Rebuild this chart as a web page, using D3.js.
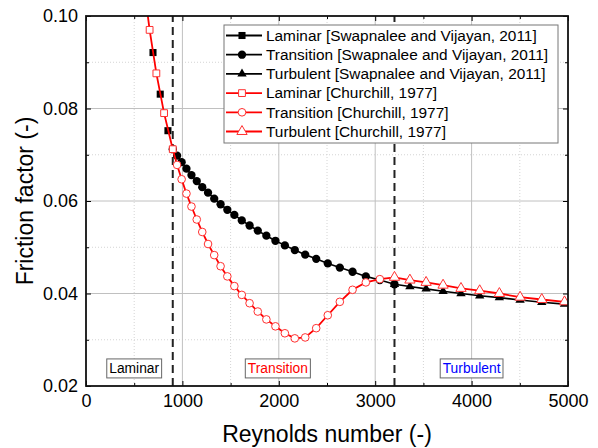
<!DOCTYPE html>
<html>
<head>
<meta charset="utf-8">
<script src="https://cdn.jsdelivr.net/npm/d3@7"></script>
<style>
  body { margin: 0; background: #fff; }
  svg { display: block; font-family: "Liberation Sans", Arial, sans-serif; }
</style>
</head>
<body>
<div id="chart"></div>
<script>
// Data
const reLamSV = [695, 770, 850];
const fLamSV = [0.0921, 0.0831, 0.0752];

const reTransSV = [900, 945, 992, 1042, 1094, 1149, 1206, 1266, 1330, 1396, 1466, 1539, 1616, 1697,
  1782, 1871, 1965, 2063, 2166, 2274, 2388, 2508, 2633, 2765, 2903, 3048, 3200];
const fTransSV = [0.0712, 0.0698, 0.0684, 0.0670, 0.0656, 0.0643, 0.0630, 0.0618, 0.0605, 0.0593,
  0.0581, 0.0570, 0.0558, 0.0547, 0.0536, 0.0525, 0.0514, 0.0504, 0.0494, 0.0484, 0.0475, 0.0465,
  0.0456, 0.0447, 0.0437, 0.0429, 0.0420];

const reTurbSV = [3200, 3360, 3528, 3704, 3890, 4084, 4288, 4503, 4728, 4964];
const fTurbSV = [0.0420, 0.0415, 0.0410, 0.0405, 0.0400, 0.0395, 0.0391, 0.0386, 0.0381, 0.0377];

const reLamCh = [600, 660, 730, 810, 900];
const fLamCh = [0.1067, 0.0970, 0.0876, 0.0790, 0.0712];

const reTransCh = [945, 992, 1042, 1094, 1149, 1206, 1266, 1330, 1396, 1466, 1539, 1616, 1697, 1782,
  1871, 1965, 2063, 2166, 2274, 2388, 2508, 2633, 2765, 2903, 3048];
const fTransCh = [0.0678, 0.0647, 0.0616, 0.0588, 0.0560, 0.0533, 0.0507, 0.0483, 0.0459, 0.0437,
  0.0416, 0.0397, 0.0379, 0.0361, 0.0344, 0.0329, 0.0314, 0.0303, 0.0305, 0.0325, 0.0353, 0.0382,
  0.0408, 0.0424, 0.0431];

const reTurbCh = [3200, 3360, 3528, 3704, 3890, 4084, 4288, 4503, 4728, 4964];
const fTurbCh = [0.0435, 0.0429, 0.0424, 0.0418, 0.0411, 0.0406, 0.0400, 0.0392, 0.0387, 0.0382];

const xTicks = [0, 1000, 2000, 3000, 4000, 5000];
const xMinor = [500, 1500, 2500, 3500, 4500];
const yTicks = [0.02, 0.04, 0.06, 0.08, 0.10];
const yMinor = [0.03, 0.05, 0.07, 0.09];

const boundaries = [900, 3200];
const regionNames = ["Laminar", "Transition", "Turbulent"];
const regionRe = [500, 1990, 4000];
const regionColors = ["#000000", "#ff0000", "#0000ff"];

const legendLabels = [
  "Laminar [Swapnalee and Vijayan, 2011]",
  "Transition [Swapnalee and Vijayan, 2011]",
  "Turbulent [Swapnalee and Vijayan, 2011]",
  "Laminar [Churchill, 1977]",
  "Transition [Churchill, 1977]",
  "Turbulent [Churchill, 1977]"
];

//#region Setup
const width = 598, height = 448;
const margin = { left: 86, top: 16, right: 30, bottom: 62 };
const chart = d3.select("#chart").append("svg").attr("width", width).attr("height", height);
chart.append("rect").attr("width", width).attr("height", height).attr("fill", "#fff");

const x = d3.scaleLinear().domain([0, 5000]).range([margin.left, width - margin.right]);
const y = d3.scaleLinear().domain([0.02, 0.10]).range([height - margin.bottom, margin.top]);
const [x0, x1] = x.range();
const [y0, y1] = y.range();
//#endregion

//#region Grid
const grid = chart.append("g");
grid.selectAll(".gxm").data(xMinor).enter().append("line")
  .attr("x1", d => x(d)).attr("x2", d => x(d)).attr("y1", y0).attr("y2", y1)
  .attr("stroke", "#d4d4d4").attr("stroke-dasharray", "1,2");
grid.selectAll(".gym").data(yMinor).enter().append("line")
  .attr("y1", d => y(d)).attr("y2", d => y(d)).attr("x1", x0).attr("x2", x1)
  .attr("stroke", "#d4d4d4").attr("stroke-dasharray", "1,2");
grid.selectAll(".gx").data(xTicks.slice(1, -1)).enter().append("line")
  .attr("x1", d => x(d)).attr("x2", d => x(d)).attr("y1", y0).attr("y2", y1)
  .attr("stroke", "#c0c0c0");
grid.selectAll(".gy").data(yTicks.slice(1, -1)).enter().append("line")
  .attr("y1", d => y(d)).attr("y2", d => y(d)).attr("x1", x0).attr("x2", x1)
  .attr("stroke", "#c0c0c0");
//#endregion

//#region Region boundaries and labels
chart.selectAll(".bound").data(boundaries).enter().append("line")
  .attr("x1", d => x(d)).attr("x2", d => x(d)).attr("y1", y0).attr("y2", y1)
  .attr("stroke", "#222").attr("stroke-width", 2).attr("stroke-dasharray", "8,5");

regionNames.forEach((name, i) => {
  const g = chart.append("g").attr("transform", `translate(${x(regionRe[i])},${y(0.0238)})`);
  const rect = g.append("rect").attr("fill", "#fff").attr("stroke", "#666").attr("stroke-width", 1);
  const t = g.append("text").text(name).attr("text-anchor", "middle").attr("dy", "0.35em")
    .attr("font-size", 13.8).attr("fill", regionColors[i]);
  const w = t.node().getComputedTextLength();
  rect.attr("x", -w / 2 - 2.5).attr("y", -9.5).attr("width", w + 5).attr("height", 19);
});
//#endregion

//#region Series
chart.append("defs").append("clipPath").attr("id", "plotclip")
  .append("rect").attr("x", x0).attr("y", y1).attr("width", x1 - x0).attr("height", y0 - y1);
const plot = chart.append("g").attr("clip-path", "url(#plotclip)");
const zip = (xs, ys) => xs.map((v, i) => [v, ys[i]]);
const line = d3.line().x(d => x(d[0])).y(d => y(d[1]));

const symSquareB = d3.symbol().type(d3.symbolSquare).size(50);
const symCircleB = d3.symbol().type(d3.symbolCircle).size(54);
const symTriB = d3.symbol().type(d3.symbolTriangle).size(38);
const symSquareR = d3.symbol().type(d3.symbolSquare).size(46);
const symCircleR = d3.symbol().type(d3.symbolCircle).size(46);
const symTriR = d3.symbol().type(d3.symbolTriangle).size(46);

const blackLinePts = zip(reTransSV, fTransSV).concat(zip(reTurbSV, fTurbSV).slice(1));
plot.append("path").attr("d", line(blackLinePts)).attr("fill", "none")
  .attr("stroke", "#000").attr("stroke-width", 1.6);

function markers(pts, sym, fill, stroke) {
  plot.append("g").selectAll("path").data(pts).enter().append("path")
    .attr("d", sym())
    .attr("transform", d => `translate(${x(d[0])},${y(d[1])})`)
    .attr("fill", fill).attr("stroke", stroke).attr("stroke-width", 1);
}
markers(zip(reLamSV, fLamSV), symSquareB, "#000", "none");
markers(zip(reTransSV, fTransSV), symCircleB, "#000", "none");
markers(zip(reTurbSV, fTurbSV), symTriB, "#000", "none");

const redLinePts = zip(reLamCh, fLamCh).concat(zip(reTransCh, fTransCh), zip(reTurbCh, fTurbCh));
plot.append("path").attr("d", line(redLinePts)).attr("fill", "none")
  .attr("stroke", "#ff0000").attr("stroke-width", 1.8);
markers(zip(reLamCh, fLamCh), symSquareR, "#fff", "#ff3030");
markers(zip(reTransCh, fTransCh), symCircleR, "#fff", "#ff3030");
markers(zip(reTurbCh, fTurbCh), symTriR, "#fff", "#ff3030");
//#endregion

//#region Axes
function styleAxis(g) {
  g.select(".domain").remove();
  g.selectAll(".tick line").attr("stroke", "#000");
  g.attr("font-family", null).attr("font-size", 18).selectAll("text").attr("fill", "#000");
}
chart.append("g").attr("transform", `translate(0,${y0})`)
  .call(d3.axisBottom(x).tickValues(xTicks).tickSize(-5).tickSizeOuter(0).tickPadding(8)
    .tickFormat(d3.format("d"))).call(styleAxis);
chart.append("g").attr("transform", `translate(0,${y0})`)
  .call(d3.axisBottom(x).tickValues(xMinor).tickSize(-3).tickFormat("")).call(styleAxis);
chart.append("g").attr("transform", `translate(${x0},0)`)
  .call(d3.axisLeft(y).tickValues(yTicks).tickSize(-5).tickSizeOuter(0).tickPadding(8)
    .tickFormat(d3.format(".2f"))).call(styleAxis);
chart.append("g").attr("transform", `translate(${x0},0)`)
  .call(d3.axisLeft(y).tickValues(yMinor).tickSize(-3).tickFormat("")).call(styleAxis);
// top and right: ticks only
chart.append("g").attr("transform", `translate(0,${y1})`)
  .call(d3.axisTop(x).tickValues(xTicks).tickSize(-5).tickFormat("")).call(styleAxis);
chart.append("g").attr("transform", `translate(0,${y1})`)
  .call(d3.axisTop(x).tickValues(xMinor).tickSize(-3).tickFormat("")).call(styleAxis);
chart.append("g").attr("transform", `translate(${x1},0)`)
  .call(d3.axisRight(y).tickValues(yTicks).tickSize(-5).tickFormat("")).call(styleAxis);
chart.append("g").attr("transform", `translate(${x1},0)`)
  .call(d3.axisRight(y).tickValues(yMinor).tickSize(-3).tickFormat("")).call(styleAxis);

chart.append("rect").attr("x", x0).attr("y", y1).attr("width", x1 - x0).attr("height", y0 - y1)
  .attr("fill", "none").attr("stroke", "#111").attr("stroke-width", 1.8);

chart.append("text").text("Reynolds number (-)")
  .attr("x", (x0 + x1) / 2).attr("y", 442).attr("text-anchor", "middle").attr("font-size", 23);
chart.append("text").text("Friction factor (-)")
  .attr("transform", `translate(33,${(y0 + y1) / 2}) rotate(-90)`)
  .attr("text-anchor", "middle").attr("font-size", 23);
//#endregion

//#region Legend
const legend = chart.append("g").attr("transform", "translate(224,25)");
legend.append("rect").attr("width", 334).attr("height", 118)
  .attr("fill", "#fff").attr("stroke", "#777").attr("stroke-width", 1);
const legendSyms = [symSquareB, symCircleB, symTriB, symSquareR, symCircleR, symTriR];
legendLabels.forEach((label, i) => {
  const red = i >= 3;
  const row = legend.append("g").attr("transform", `translate(0,${10.5 + i * 19.2})`);
  row.append("line").attr("x1", 2).attr("x2", 38)
    .attr("stroke", red ? "#ff0000" : "#000").attr("stroke-width", 1.8);
  row.append("path").attr("d", legendSyms[i]()).attr("transform", "translate(18,0)")
    .attr("fill", red ? "#fff" : "#000").attr("stroke", red ? "#ff3030" : "none");
  row.append("text").text(label).attr("x", 42).attr("dy", "0.35em").attr("font-size", 15.4);
});
//#endregion
</script>
</body>
</html>
